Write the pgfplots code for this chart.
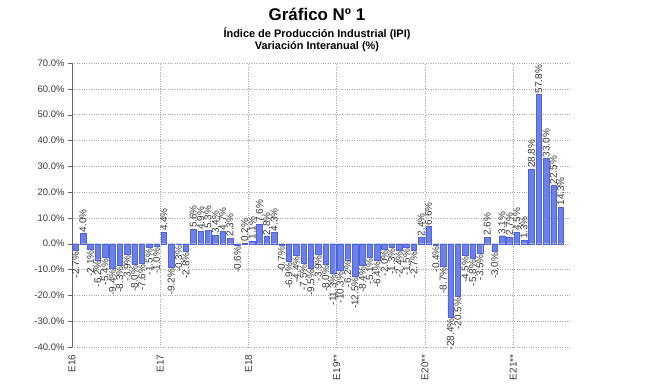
\documentclass[border=0pt]{standalone}
\usepackage{pgfplots}
\pgfplotsset{compat=1.18}
\usepackage{pgfplotstable}
\usepackage{fontspec}
\setmainfont{Liberation Sans}
\definecolor{barfill}{RGB}{108,128,235}
\definecolor{baredge}{RGB}{80,100,210}
\definecolor{txt}{RGB}{55,55,55}
\pgfplotstableread{
x y
0 -2.7
1 4.0
2 -2.1
3 -6.2
4 -5.4
5 -9.4
6 -8.3
7 -3.9
8 -8.0
9 -7.6
10 -1.5
11 -1.0
12 4.4
13 -9.2
14 -0.3
15 -2.8
16 5.6
17 4.9
18 5.3
19 3.4
20 4.7
21 2.3
22 -0.6
23 0.2
24 1.1
25 7.6
26 2.8
27 4.3
28 -0.7
29 -6.9
30 -4.4
31 -7.5
32 -9.5
33 -3.9
34 -8.0
35 -11.3
36 -10.3
37 -6.2
38 -12.5
39 -8.4
40 -5.1
41 -6.4
42 -2.0
43 -1.3
44 -2.4
45 -1.5
46 -2.7
47 2.4
48 6.6
49 -0.4
50 -8.7
51 -28.4
52 -20.5
53 -4.5
54 -5.8
55 -3.5
56 2.6
57 -3.0
58 3.1
59 2.7
60 4.5
61 1.3
62 28.8
63 57.8
64 33.0
65 22.5
66 14.3
}\ipi
\begin{document}
\begin{tikzpicture}
\path[use as bounding box] (-72bp,-45bp) rectangle (594bp,347bp);
\begin{axis}[
  at={(0,0)}, anchor=south west,
  scale only axis, width=498bp, height=284bp,
  xmin=-0.5, xmax=67.25, ymin=-40, ymax=70,
  /pgf/number format/assume math mode=true,
  ytick={-40,-30,...,70},
  yticklabel={\pgfmathprintnumber[fixed,fixed zerofill,precision=1]{\tick}\%},
  yticklabel style={font=\fontsize{9.5}{11}\selectfont, text=txt},
  xtick={-0.5,11.5,23.5,35.5,47.5,59.5},
  xticklabels={E16,E17,E18,E19**,E20**,E21**},
  xticklabel style={rotate=90, anchor=east, font=\fontsize{10}{12}\selectfont, text=txt},
  grid=major, grid style={dotted, gray!70},
  axis x line*=bottom, axis y line*=left,
  x axis line style={draw=none},
  y axis line style={gray!80!black},
  y tick style={gray!80!black}, x tick style={draw=none},
  tick align=outside, major tick length=4bp,
  every node near coord/.append style={font=\fontsize{10}{12}\selectfont, text=txt, rotate=90, inner sep=1.2pt},
]
\addplot[ybar, bar width=0.75, bar shift=0pt, fill=barfill, draw=baredge,
  restrict y to domain=0:100,
  nodes near coords={\pgfmathprintnumber[fixed,fixed zerofill,precision=1]{\pgfplotspointmeta}\%},
  every node near coord/.append style={anchor=west}] table[x=x,y=y] {\ipi};
\addplot[ybar, bar width=0.75, bar shift=0pt, fill=barfill, draw=baredge,
  restrict y to domain=-100:0,
  nodes near coords={\pgfmathprintnumber[fixed,fixed zerofill,precision=1]{\pgfplotspointmeta}\%},
  every node near coord/.append style={anchor=east}] table[x=x,y=y] {\ipi};
\end{axis}
\node[font=\bfseries\fontsize{17}{20}\selectfont] at (245bp,333bp) {Gráfico Nº 1};
\node[font=\bfseries\fontsize{11}{13}\selectfont] at (245bp,313bp) {Índice de Producción Industrial (IPI)};
\node[font=\bfseries\fontsize{11}{13}\selectfont] at (245bp,300bp) {Variación Interanual (\%)};
\end{tikzpicture}
\end{document}
